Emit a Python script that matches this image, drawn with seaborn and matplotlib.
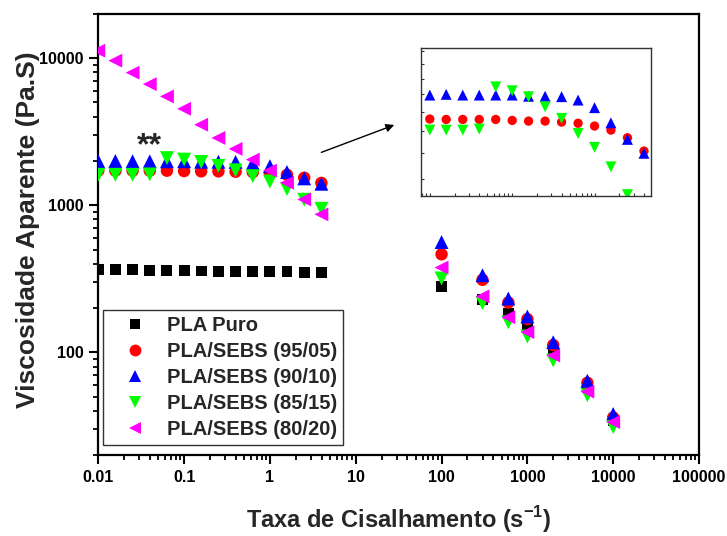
import numpy as np
import pandas as pd
import matplotlib
matplotlib.use("Agg")
import matplotlib.pyplot as plt
from matplotlib.lines import Line2D
from matplotlib.ticker import LogLocator, FuncFormatter, NullFormatter
import seaborn as sns

sns.set_style("ticks")
plt.rcParams['font.family'] = ['Liberation Sans', 'DejaVu Sans']
plt.rcParams['font.weight'] = 'bold'
plt.rcParams['axes.labelweight'] = 'bold'
plt.rcParams['mathtext.fontset'] = 'custom'
plt.rcParams['mathtext.rm'] = 'Liberation Sans:bold'
plt.rcParams['mathtext.bf'] = 'Liberation Sans:bold'

# ---------------- data ----------------
series = ["PLA Puro", "PLA/SEBS (95/05)", "PLA/SEBS (90/10)",
          "PLA/SEBS (85/15)", "PLA/SEBS (80/20)"]
colors = ["#000000", "#FF0000", "#0000FF", "#00FF00", "#FF00FF"]
markers = ["s", "o", "^", "v", "<"]

low_rate = [0.01, 0.0158, 0.0251, 0.0398, 0.0631, 0.1, 0.158, 0.251,
            0.398, 0.631, 1.0, 1.58, 2.51, 3.98]
high_rate = [100, 300, 600, 1000, 2000, 5000, 10000]

pla_low = [367, 365, 363, 361, 360, 358, 357, 356, 355, 354, 353, 352, 351, 350]
s9505_low = [1722, 1718, 1718, 1718, 1718, 1708, 1701, 1701, 1691, 1679, 1651, 1611, 1538, 1419]
s9010_low = [1991, 2000, 1991, 1991, 1991, 1991, 1977, 1977, 1972, 1932, 1845, 1683, 1523, 1400]
s8515_low = [1611, 1611, 1611, 1621, 2093, 2044, 1971, 1854, 1729, 1578, 1451, 1290, 1090, 946]
s8020_low = [11260, 9630, 7980, 6665, 5495, 4530, 3530, 2870, 2417, 2044, 1722, 1422, 1095, 867]

pla_high = [280, 230, 185, 148, 103, 58, 34.4]
s9505_high = [464, 311, 218, 168, 112, 62, 36]
s9010_high = [562, 334, 232, 175, 117, 64, 38]
s8515_high = [318, 216, 160, 128, 88, 51, 31]
s8020_high = [377, 240, 173, 137, 95, 54, 33.5]

x_ticks = [0.01, 0.1, 1, 10, 100, 1000, 10000, 100000]
y_ticks = [100, 1000, 10000]

low_vals = [pla_low, s9505_low, s9010_low, s8515_low, s8020_low]
high_vals = [pla_high, s9505_high, s9010_high, s8515_high, s8020_high]

rows = []
for name, lo, hi in zip(series, low_vals, high_vals):
    for xv, yv in zip(low_rate, lo):
        rows.append((name, xv, yv, "low"))
    for xv, yv in zip(high_rate, hi):
        rows.append((name, xv, yv, "high"))
df = pd.DataFrame(rows, columns=["serie", "taxa", "visc", "regiao"])

sizes_main = {"s": 62, "o": 80, "^": 100, "v": 100, "<": 100}
sizes_inset = {"o": 45, "^": 62, "v": 62}

# ---------------- figure ----------------
fig = plt.figure(figsize=(7.27, 5.36), dpi=100)
ax = fig.add_axes([0.1352, 0.1511, 0.8263, 0.8228])

for name, c, m in zip(series, colors, markers):
    sub = df[df.serie == name]
    sns.scatterplot(data=sub, x="taxa", y="visc", color=c, marker=m,
                    s=sizes_main[m], edgecolor="none", linewidth=0,
                    ax=ax, legend=False, zorder=3)

ax.set_xscale("log")
ax.set_yscale("log")
ax.xaxis.set_minor_locator(LogLocator(base=10, subs=np.arange(2, 10)))
ax.yaxis.set_minor_locator(LogLocator(base=10, subs=np.arange(2, 10)))
ax.set_xticks(x_ticks)
ax.set_yticks(y_ticks)
fmt = FuncFormatter(lambda v, p: f"{v:g}")
ax.xaxis.set_major_formatter(fmt)
ax.yaxis.set_major_formatter(fmt)
ax.xaxis.set_minor_formatter(NullFormatter())
ax.yaxis.set_minor_formatter(NullFormatter())
ax.set_xlim(0.01, 100000)
ax.set_ylim(20, 20000)

for sp in ax.spines.values():
    sp.set_linewidth(1.6)
    sp.set_color("black")
ax.tick_params(axis="both", which="major", direction="out", length=6.5,
               width=1.5, labelsize=11.5, pad=4, colors="black")
ax.tick_params(axis="both", which="minor", direction="out", length=3.5,
               width=1.3, colors="black")
ax.tick_params(top=False, right=False, which="both")

ax.set_xlabel(r"Taxa de Cisalhamento (s$^{\mathbf{-1}}$)", fontsize=17)
ax.set_ylabel("Viscosidade Aparente (Pa.S)", fontsize=19)
ax.xaxis.set_label_coords(0.5, -0.112)
ax.yaxis.set_label_coords(-0.097, 0.51)

handles = [Line2D([], [], linestyle="none", marker=m, color=c, markeredgewidth=0,
                  markersize=(8 if m == "s" else 10) * 0.85)
           for c, m in zip(colors, markers)]
leg = ax.legend(handles, series, loc="lower left", bbox_to_anchor=(0.008, 0.023),
                borderaxespad=0, fontsize=14.5, frameon=True, fancybox=False,
                handletextpad=0.25, labelspacing=0.35, borderpad=0.3,
                handlelength=2.6)
leg.get_frame().set_edgecolor("black")
leg.get_frame().set_linewidth(1.0)

ax.text(0.0845, 0.70, "**", transform=ax.transAxes, fontsize=23,
        ha="center", va="center", fontweight="bold")

ax.annotate("", xy=(0.497, 0.7506), xytext=(0.367, 0.684),
            xycoords="axes fraction", textcoords="axes fraction",
            arrowprops=dict(arrowstyle="-|>", color="black", lw=1.0,
                            mutation_scale=12))

# ---------------- inset ----------------
axi = fig.add_axes([0.579, 0.634, 0.316, 0.2756])
for name, c, m in zip(series[1:4], colors[1:4], markers[1:4]):
    sub = df[(df.serie == name) & (df.regiao == "low")]
    sns.scatterplot(data=sub, x="taxa", y="visc", color=c, marker=m,
                    s=sizes_inset[m], edgecolor="none", linewidth=0,
                    ax=axi, legend=False)
axi.set_xscale("log")
axi.set_yscale("log")
axi.set_xlim(0.0078, 4.8)
axi.set_ylim(1080, 2640)
axi.xaxis.set_minor_locator(LogLocator(base=10, subs=np.arange(2, 10)))
axi.yaxis.set_minor_locator(LogLocator(base=10, subs=np.arange(1, 10)))
axi.set_xlabel("")
axi.set_ylabel("")
axi.tick_params(axis="both", which="both", direction="in", length=2.5,
                width=0.8, labelbottom=False, labelleft=False, colors="#333333")
for sp in axi.spines.values():
    sp.set_linewidth(1.0)
    sp.set_color("#333333")

fig.savefig("out.png", dpi=100)
